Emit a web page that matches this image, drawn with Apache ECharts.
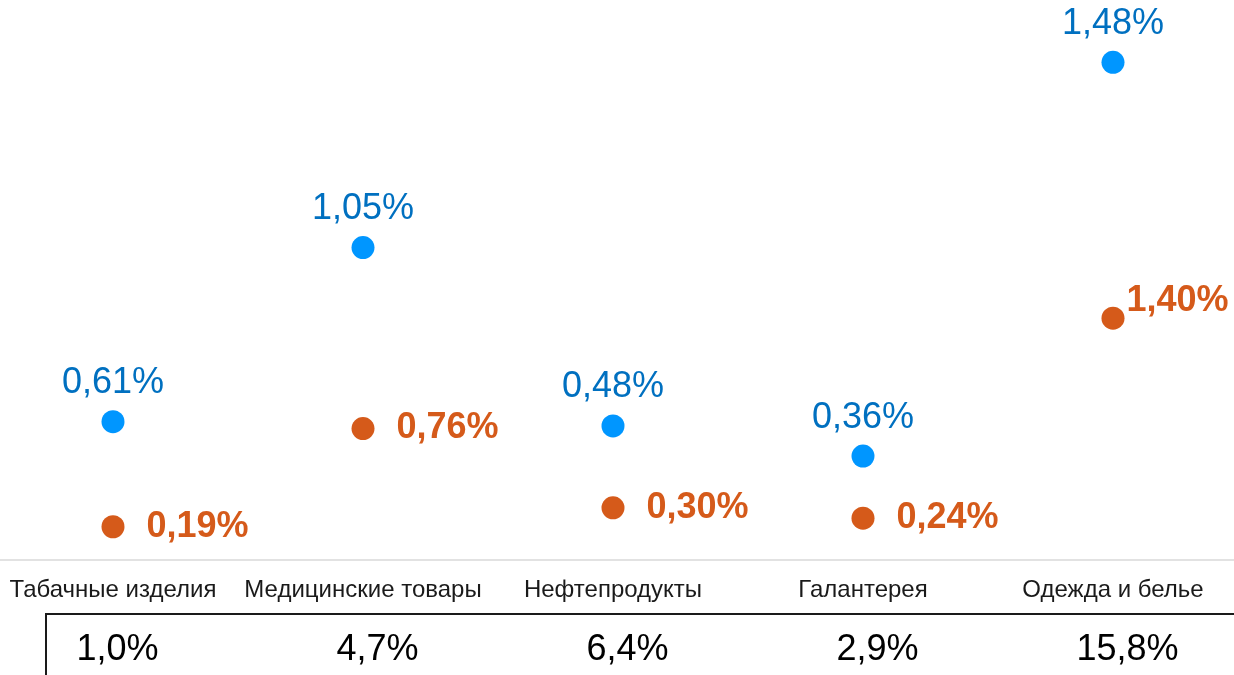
<!DOCTYPE html>
<html>
<head>
<meta charset="utf-8">
<script src="https://cdn.jsdelivr.net/npm/echarts@6/dist/echarts.min.js"></script>
<style>
html,body{margin:0;padding:0;background:#fff;overflow:hidden;width:1234px;height:675px;}
#chart{position:absolute;left:-12px;top:0;width:1250px;height:675px;}
</style>
</head>
<body>
<div id="chart"></div>
<script>
// Data
const categories = ['Табачные изделия', 'Медицинские товары', 'Нефтепродукты', 'Галантерея', 'Одежда и белье'];
const tableValues = ['1,0%', '4,7%', '6,4%', '2,9%', '15,8%'];
// Blue series: label values and plotted levels
const blueLabels = ['0,61%', '1,05%', '0,48%', '0,36%', '1,48%'];
const blueLevels = [0.80, 1.81, 0.775, 0.60, 2.885];
// Orange series values (%)
const orangeValues = [0.19, 0.76, 0.30, 0.24, 1.40];

const FONT = "'Liberation Sans', Arial, sans-serif";
const chart = echarts.init(document.getElementById('chart'));

const fmt = v => v.toFixed(2).replace('.', ',') + '%';
const OX = 12; // canvas offset (chart div starts 12px left of page)

const cellStyle = { fontFamily: FONT, fontSize: 36, color: '#000000' };

chart.setOption({
  animation: false,
  backgroundColor: '#ffffff',
  grid: { left: 0, right: 0, top: 8, bottom: 115.5, containLabel: false },
  xAxis: [{
    type: 'category',
    data: categories,
    position: 'bottom',
    axisLine: { show: true, lineStyle: { color: '#d9d9d9', width: 1.5 } },
    axisTick: { show: false },
    axisLabel: { fontFamily: FONT, fontSize: 24, color: '#1a1a1a', margin: 19, interval: 0 },
    splitLine: { show: false }
  }, {
    type: 'category',
    data: tableValues,
    position: 'bottom',
    offset: 0,
    axisLine: { show: false },
    axisTick: { show: false },
    axisLabel: {
      fontFamily: FONT, fontSize: 36, color: '#000000', margin: 73, interval: 0,
      formatter: (v, i) => (i === 0 ? '{a|' : '{b|') + v + '}',
      rich: {
        a: Object.assign({ padding: [0, 0, 0, 9] }, cellStyle),
        b: Object.assign({ padding: [0, 0, 0, 29] }, cellStyle)
      }
    },
    splitLine: { show: false }
  }],
  yAxis: { type: 'value', min: 0, max: 3.2, show: false, splitLine: { show: false } },
  series: [{
    type: 'scatter',
    name: 'blue',
    xAxisIndex: 0,
    symbolSize: 23,
    itemStyle: { color: '#0096ff', opacity: 1 },
    data: blueLevels.map((v, i) => ({ value: v, label: { formatter: blueLabels[i] } })),
    label: {
      show: true, position: 'top', distance: 9,
      fontFamily: FONT, fontSize: 36, color: '#0070c0', opacity: 1
    }
  }, {
    type: 'scatter',
    name: 'orange',
    xAxisIndex: 0,
    symbolSize: 23,
    itemStyle: { color: '#d55a1a', opacity: 1 },
    data: orangeValues.map((v, i) => i === 4 ? { value: v, label: { offset: [-20, -17] } } : v),
    label: {
      show: true, position: 'right', distance: 22,
      fontFamily: FONT, fontSize: 36, fontWeight: 'bold', color: '#d55a1a', opacity: 1,
      formatter: p => fmt(p.value)
    }
  }],
  graphic: [
    { type: 'line', shape: { x1: 46 + OX, y1: 614, x2: 1234 + OX, y2: 614 }, style: { stroke: '#1a1a1a', lineWidth: 2 } },
    { type: 'line', shape: { x1: 46 + OX, y1: 613, x2: 46 + OX, y2: 675 }, style: { stroke: '#1a1a1a', lineWidth: 2 } }
  ]
});
</script>
</body>
</html>
